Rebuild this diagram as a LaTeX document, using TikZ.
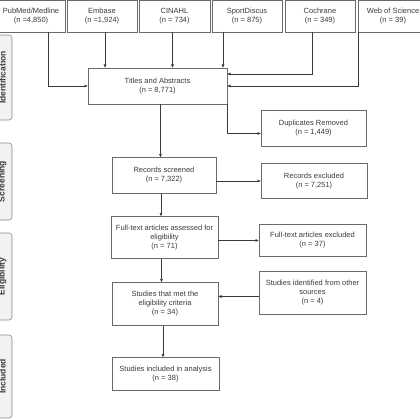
\documentclass[tikz,border=0pt]{standalone}
\usepackage{fontspec}
\setmainfont{Liberation Sans}
\usetikzlibrary{arrows.meta}
\definecolor{inkgray}{HTML}{3A3A3A}
\definecolor{edgegray}{HTML}{6A6A6A}
\definecolor{phasefill}{HTML}{F2F2F2}
\begin{document}
\begin{tikzpicture}[x=1pt,y=-1pt,inner sep=0pt,outer sep=0pt,line width=0.6pt,
>={Latex[length=3.5pt,width=3pt]},
every node/.style={text=inkgray,font=\fontsize{7.5}{9}\selectfont,align=center},
srcbox/.style={draw=edgegray,rectangle,minimum width=70pt,minimum height=32pt},
stepbox/.style={draw=edgegray,rectangle,minimum width=106pt,minimum height=#1},
stepbox/.default=36pt,
phasebox/.style={draw=edgegray!80,fill=phasefill,rounded corners=3pt,rotate=90,
  minimum height=19pt,minimum width=#1,font=\fontsize{8.5}{10}\bfseries},
conn/.style={draw=inkgray,->}]
\useasboundingbox (0,0) rectangle (420,420);
% databases
\draw (31,16) node[srcbox,minimum width=68pt] (pubmed) {PubMed/Medline\\(n =4,850)};
\draw (102,16) node[srcbox] (embase) {Embase\\(n =1,924)};
\draw (174.5,16) node[srcbox,minimum width=71pt] (cinahl) {CINAHL\\(n = 734)};
\draw (247,16) node[srcbox] (sport) {SportDiscus\\(n = 875)};
\draw (320,16) node[srcbox] (cochrane) {Cochrane\\(n = 349)};
\draw (393,16) node[srcbox] (wos) {Web of Science\\(n = 39)};
% flow
\draw (157.5,86) node[stepbox,minimum width=139pt] (tiab) {Titles and Abstracts\\(n = 8,771)};
\draw (313.5,128.5) node[stepbox,minimum width=105pt] (dup) {Duplicates Removed\\(n = 1,449)};
\draw (164,175.5) node[stepbox,minimum width=104pt] (screened) {Records screened\\(n = 7,322)};
\draw (314,181) node[stepbox=35pt] (recexcl) {Records excluded\\(n = 7,251)};
\draw (164.5,237.5) node[stepbox=42pt,minimum width=107pt] (fulltext) {Full-text articles assessed for\\eligibility\\(n = 71)};
\draw (312.5,240.5) node[stepbox=32pt,minimum width=107pt] (ftexcl) {Full-text articles excluded\\(n = 37)};
\draw (165,304) node[stepbox=43pt] (met) {Studies that met the\\eligibility criteria\\(n = 34)};
\draw (312.5,293) node[stepbox=43pt,minimum width=107pt] (other) {Studies identified from other\\sources\\(n = 4)};
\draw (165.5,374) node[stepbox=33pt,minimum width=107pt] (incl) {Studies included in analysis\\(n = 38)};
% phases
\draw (2.5,77.5) node[phasebox=85pt] (idph) {Identification};
\draw (2.5,181.5) node[phasebox=77pt] (scph) {Screening};
\draw (2.5,276.5) node[phasebox=87pt] (elph) {Eligibility};
\draw (2.5,376.5) node[phasebox=83pt] (inph) {Included};
% connectors
\draw[conn] ([xshift=-17pt]pubmed.south east) |- (tiab.west);
\draw[conn] ([xshift=3pt]embase.south) -- ([xshift=3pt]embase.south |- tiab.north);
\draw[conn] ([xshift=-2pt]cinahl.south) -- ([xshift=-2pt]cinahl.south |- tiab.north);
\draw[conn] ([xshift=-24pt]sport.south) -- ([xshift=-24pt]sport.south |- tiab.north);
\draw[conn] ([xshift=-8pt]cochrane.south) |- ([yshift=-6pt]tiab.north east);
\draw[conn] ([xshift=0.5pt]wos.south west) |- (tiab.east);
\draw[conn] ([xshift=3pt]tiab.south) -- ([xshift=3pt]tiab.south |- screened.north);
\draw[conn] (tiab.south east) |- ([yshift=-5pt]dup.west);
\draw[conn] (recexcl.west -| screened.east) -- (recexcl.west);
\draw[conn] ([xshift=-3pt]screened.south) -- ([xshift=-3pt]screened.south |- fulltext.north);
\draw[conn] (ftexcl.west -| fulltext.east) -- (ftexcl.west);
\draw[conn] ([xshift=-3pt]fulltext.south) -- ([xshift=-3pt]fulltext.south |- met.north);
\draw[conn] ([yshift=-3.5pt]other.west) -- ([yshift=-3.5pt]other.west -| met.east);
\draw[conn] ([xshift=-2pt]met.south) -- ([xshift=-2pt]met.south |- incl.north);
\end{tikzpicture}
\end{document}
